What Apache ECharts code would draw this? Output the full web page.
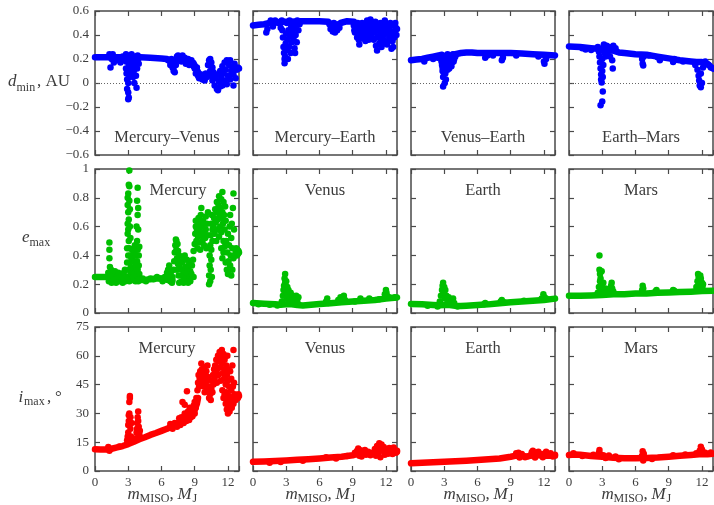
<!DOCTYPE html>
<html><head><meta charset="utf-8">
<script src="https://cdn.jsdelivr.net/npm/echarts@6/dist/echarts.min.js"></script>
<style>html,body{margin:0;padding:0;background:#fff}#c{width:714px;height:505px}</style>
</head><body><div id="c"></div>
<script>
// ---------- tick labels / titles ----------
const xTicks = [0, 3, 6, 9, 12];
const xMax = 13;
const dTicks = [-0.6, -0.4, -0.2, 0, 0.2, 0.4, 0.6];
const eTicks = [0, 0.2, 0.4, 0.6, 0.8, 1];
const iTicks = [0, 15, 30, 45, 60, 75];
const pairTitles = ['Mercury–Venus', 'Mercury–Earth', 'Venus–Earth', 'Earth–Mars'];
const planetTitles = ['Mercury', 'Venus', 'Earth', 'Mars'];

// ---------- d_min (AU) ----------
const dMV_band = [[0,0.215],[1,0.215],[2,0.215],[2.7,0.215],[4.1,0.215],[5,0.21],[6,0.205],[6.5,0.2],[6.8,0.18],[7.1,0.13],[7.4,0.2],[7.7,0.215],[8,0.195],[8.5,0.185],[8.9,0.165],[9.2,0.11],[9.5,0.06],[10,0.045]];
const dMV_pts = [[1.3,0.24],[1.4,0.13],[1.5,0.2],[1.6,0.24],[1.7,0.17],[2.1,0.19],[2.3,0.17],[2.5,0.22],
[2.8,0.24],[2.8,0.18],[2.8,0.12],[2.85,0.08],[2.9,0.03],[2.9,-0.05],[3.0,-0.08],[3.05,-0.12],[3.0,-0.135],[3.0,0.0],[3.0,0.2],[3.05,0.15],[3.1,0.1],[3.1,0.05],[3.15,0.22],[3.2,0.12],[3.25,0.18],[3.3,0.09],[3.3,0.24],[3.4,0.16],[3.45,0.05],[3.5,0.21],[3.5,0.1],[3.55,0.0],[3.6,0.14],[3.6,0.22],[3.7,0.06],[3.7,0.18],[3.75,-0.04],[3.8,0.12],[3.85,0.23],[3.9,0.2],[3.95,0.16],
[6.6,0.19],[6.8,0.15],[6.9,0.2],[7.0,0.13],[7.1,0.1],[7.2,0.09],[7.3,0.15],[7.4,0.22],[7.5,0.23],[7.6,0.21],[7.8,0.18],[7.9,0.23],[8.1,0.21],[8.2,0.16],[8.4,0.2],[8.5,0.15],[8.7,0.19],[8.8,0.17],[8.9,0.14],[9.0,0.12],[9.1,0.08],[9.2,0.13],[9.3,0.06],[9.4,0.04],[9.6,0.07],[9.7,0.03],[9.8,0.06],[9.9,0.02],[10.0,0.08],[10.1,0.05],[10.2,0.15],[10.3,0.19],[10.4,0.2],[10.4,0.1],[10.5,0.17],[10.5,0.06],[10.6,0.13],[10.6,0.02],[10.7,0.09],[10.8,-0.02],[10.9,0.04],[11.0,-0.05],[11.0,0.07],[11.1,-0.06],[11.2,0.01],[11.3,0.1],[11.3,-0.03],[11.4,0.05],[11.5,0.14],[11.5,-0.02],[11.6,0.08],[11.7,0.17],[11.7,0.02],[11.8,0.11],[11.9,0.19],[11.9,-0.01],[12.0,0.06],[12.1,0.15],[12.2,0.19],[12.2,0.03],[12.3,0.1],[12.4,0.13],[12.5,-0.02],[12.5,0.07],[12.6,0.16],[12.7,0.04],[12.8,0.11],[12.9,0.13],[13.0,0.12]];

const dME_band = [[0,0.48],[0.5,0.485],[1,0.49],[1.5,0.5],[2,0.505],[2.6,0.51],[3.3,0.51],[4.3,0.515],[5,0.515],[6,0.515],[6.8,0.51],[7.2,0.47],[7.5,0.45],[7.9,0.5],[8.5,0.515],[9.1,0.51]];
const dME_pts = [[1.2,0.42],[1.3,0.45],[1.6,0.52],[1.8,0.47],[2.0,0.52],[2.3,0.5],[2.5,0.46],
[2.6,0.52],[2.65,0.44],[2.7,0.38],[2.75,0.3],[2.8,0.25],[2.85,0.2],[2.85,0.165],[2.9,0.22],[2.95,0.33],[3.0,0.41],[3.0,0.27],[3.05,0.5],[3.1,0.36],[3.15,0.2],[3.2,0.44],[3.25,0.3],[3.3,0.52],[3.35,0.39],[3.4,0.25],[3.45,0.47],[3.5,0.34],[3.55,0.42],[3.6,0.5],[3.65,0.37],[3.7,0.45],[3.75,0.29],[3.8,0.25],[3.85,0.4],[3.9,0.48],[3.95,0.34],[4.0,0.52],[4.1,0.44],[4.2,0.49],
[6.9,0.49],[7.0,0.45],[7.2,0.43],[7.3,0.5],[7.4,0.42],[7.6,0.44],[7.7,0.49],[7.8,0.46],
[9.1,0.48],[9.2,0.42],[9.3,0.5],[9.4,0.38],[9.5,0.45],[9.6,0.32],[9.7,0.4],[9.8,0.48],[9.9,0.37],[10.0,0.43],[10.1,0.39],[10.2,0.46],[10.3,0.52],[10.4,0.41],[10.5,0.5],[10.6,0.53],[10.7,0.44],[10.8,0.48],[10.9,0.36],[11.0,0.42],[11.1,0.31],[11.2,0.27],[11.2,0.38],[11.3,0.45],[11.4,0.33],[11.5,0.5],[11.5,0.4],[11.6,0.3],[11.7,0.44],[11.8,0.36],[11.9,0.52],[12.0,0.41],[12.1,0.32],[12.2,0.47],[12.3,0.38],[12.4,0.5],[12.5,0.285],[12.5,0.43],[12.6,0.35],[12.7,0.49],[12.8,0.42],[12.9,0.46],[13.0,0.45],
[9.15,0.44],[9.25,0.47],[9.35,0.43],[9.45,0.5],[9.55,0.36],[9.65,0.46],[9.75,0.42],[9.85,0.5],[9.95,0.45],[10.05,0.48],[10.15,0.35],[10.25,0.42],[10.35,0.47],[10.45,0.36],[10.55,0.44],[10.65,0.39],[10.75,0.51],[10.85,0.42],[10.95,0.47],[11.05,0.51],[11.15,0.45],[11.25,0.48],[11.35,0.39],[11.45,0.44],[11.55,0.35],[11.65,0.49],[11.75,0.4],[11.85,0.46],[11.95,0.33],[12.05,0.49],[12.15,0.43],[12.25,0.35],[12.35,0.44],[12.45,0.39],[12.55,0.48],[12.65,0.3],[12.75,0.38],[12.85,0.5],[12.95,0.4]];

const dVE_band = [[0,0.19],[0.5,0.195],[1,0.2],[1.5,0.21],[2,0.22],[2.5,0.23],[2.8,0.235],[3,0.22],[3.5,0.23],[4,0.24],[4.5,0.25],[5,0.255],[5.5,0.255],[6,0.25],[7,0.25],[8,0.25],[9,0.25],[10,0.245],[11,0.24],[12,0.235],[13,0.23]];
const dVE_pts = [[1.2,0.18],[2.0,0.2],[2.4,0.21],[2.7,0.21],[2.8,0.15],[2.85,0.1],[2.9,0.05],[2.9,-0.03],[2.95,0.19],[3.0,0.13],[3.05,0.0],[3.1,0.08],[3.1,0.2],[3.15,0.03],[3.2,0.16],[3.3,0.11],[3.3,0.24],[3.4,0.18],[3.5,0.14],[3.6,0.21],[3.7,0.17],[3.8,0.24],[3.9,0.2],[4.0,0.22],
[2.75,0.18],[2.85,0.13],[2.95,0.09],[3.0,0.17],[3.15,0.12],[3.25,0.14],[3.35,0.2],[3.45,0.12],[3.55,0.17],[3.65,0.14],[3.75,0.2],[3.85,0.18],
[6.7,0.21],[6.9,0.23],[8.2,0.19],[8.3,0.21],[7.4,0.23],[9.5,0.23],[12.0,0.18],[12.05,0.16],[12.2,0.2],[11.5,0.22]];

const dEM_band = [[0,0.305],[1,0.3],[2,0.29],[2.6,0.285],[3,0.28],[3.5,0.28],[4,0.27],[4.5,0.255],[5,0.25],[6,0.24],[7,0.235],[8,0.22],[9,0.205],[10,0.19],[11,0.18],[11.5,0.175],[12,0.175],[12.5,0.16],[13,0.12]];
const dEM_pts = [[1.2,0.29],[1.5,0.28],[2.0,0.275],[2.6,0.3],[2.7,0.26],[2.75,0.22],[2.8,0.17],[2.85,0.12],[2.9,0.07],[2.9,0.03],[2.95,0.005],[3.0,0.1],[3.0,0.2],[3.05,0.05],[3.05,-0.07],[3.0,-0.155],[2.85,-0.185],[3.1,0.15],[3.15,0.32],[3.2,0.25],[3.25,0.29],[3.3,0.22],[3.4,0.31],[3.5,0.26],[3.6,0.3],[3.7,0.22],[3.8,0.27],[3.9,0.19],[3.95,0.12],[4.0,0.31],[4.1,0.28],[4.2,0.29],[6.6,0.2],[6.65,0.16],[6.7,0.145],[6.75,0.22],[7.2,0.23],[8.2,0.19],[8.0,0.215],[9.4,0.175],[9.5,0.2],[10.3,0.18],[11.4,0.15],[11.6,0.11],[11.7,0.06],[11.75,0.02],[11.8,-0.02],[11.9,-0.035],[12.0,0.0],[11.9,0.08],[12.1,0.13],[12.2,0.17],[12.3,0.18],[12.6,0.15],[12.8,0.13]];

// ---------- e_max ----------
const eMe_band = [[0,0.25],[0.5,0.25],[1,0.25],[1.2,0.245],[1.6,0.24],[2,0.24],[2.5,0.235],[2.8,0.23],[3.3,0.23],[4,0.23],[4.5,0.23],[5,0.235],[5.5,0.24],[6,0.24],[6.5,0.23],[7,0.225]];
const eMe_pts = [[1.2,0.28],[1.25,0.22],[1.3,0.49],[1.3,0.44],[1.3,0.38],[1.35,0.32],[1.4,0.26],[1.45,0.3],[1.5,0.21],[1.6,0.27],[1.7,0.23],[1.8,0.29],[1.9,0.21],[2.0,0.26],[2.1,0.28],[2.2,0.22],[2.3,0.27],[2.4,0.25],[2.5,0.21],[2.6,0.28],[2.7,0.3],[2.75,0.22],
[2.9,0.25],[2.9,0.35],[2.9,0.45],[2.95,0.55],[2.95,0.62],[2.95,0.75],[2.95,0.8],[3.0,0.83],[3.0,0.7],[3.0,0.58],[3.0,0.4],[3.0,0.3],[3.05,0.89],[3.05,0.65],[3.05,0.5],[3.1,0.99],[3.1,0.88],[3.1,0.78],[3.1,0.45],[3.1,0.22],[3.15,0.72],[3.15,0.6],[3.15,0.35],[3.2,0.52],[3.2,0.4],[3.2,0.27],[3.25,0.32],[3.3,0.24],[3.3,0.38],[3.35,0.44],
[3.45,0.25],[3.5,0.3],[3.5,0.42],[3.55,0.36],[3.6,0.28],[3.6,0.47],[3.65,0.22],[3.7,0.33],[3.7,0.4],[3.75,0.6],[3.75,0.26],[3.8,0.78],[3.8,0.5],[3.8,0.36],[3.85,0.87],[3.85,0.68],[3.85,0.44],[3.85,0.3],[3.9,0.73],[3.9,0.58],[3.9,0.22],[3.95,0.4],[3.95,0.33],[4.0,0.46],[4.0,0.27],[4.05,0.24],
[4.3,0.24],[4.6,0.22],[5.0,0.24],[5.3,0.235],[5.6,0.25],[5.9,0.24],[6.1,0.22],
[6.3,0.25],[6.5,0.28],[6.6,0.3],[6.7,0.33],[6.75,0.26],[6.8,0.22],[6.9,0.29],[7.0,0.25],[6.95,0.21],
[7.1,0.3],[7.15,0.36],[7.2,0.42],[7.25,0.47],[7.3,0.51],[7.35,0.5],[7.35,0.44],[7.4,0.38],[7.4,0.3],[7.45,0.48],[7.5,0.43],[7.5,0.34],[7.55,0.26],[7.6,0.4],[7.6,0.21],[7.65,0.32],[7.7,0.36],
[7.8,0.22],[7.8,0.3],[7.9,0.26],[7.9,0.35],[8.0,0.21],[8.0,0.29],[8.05,0.38],[8.1,0.25],[8.1,0.4],[8.2,0.22],[8.2,0.32],[8.3,0.28],[8.3,0.37],[8.4,0.21],[8.4,0.3],[8.5,0.25],[8.5,0.34],[8.6,0.22],[8.6,0.29],[8.7,0.27],[8.75,0.33],
[8.85,0.37],[8.9,0.43],[8.9,0.25],
[9.0,0.48],[9.05,0.55],[9.1,0.6],[9.1,0.64],[9.15,0.5],[9.2,0.58],[9.25,0.45],[9.3,0.62],[9.3,0.53],[9.35,0.66],[9.4,0.49],[9.45,0.57],[9.5,0.61],[9.5,0.44],[9.55,0.68],[9.6,0.73],[9.6,0.54],[9.65,0.6],[9.7,0.5],[9.75,0.64],[9.8,0.56],[9.85,0.47],[9.9,0.62],[9.95,0.52],[10.0,0.67],[10.0,0.58],[10.05,0.45],[10.1,0.62],[10.15,0.54],[10.2,0.7],
[10.3,0.2],[10.3,0.26],[10.35,0.33],[10.35,0.4],[10.4,0.47],[10.4,0.22],[10.45,0.54],[10.45,0.3],[10.5,0.62],[10.5,0.37],[10.5,0.44],[10.55,0.68],[10.55,0.25],[10.6,0.58],[10.6,0.5],
[10.7,0.6],[10.75,0.66],[10.8,0.55],[10.85,0.72],[10.9,0.63],[10.95,0.5],[11.0,0.7],[11.0,0.77],[11.05,0.58],[11.1,0.65],[11.15,0.75],[11.2,0.53],[11.2,0.81],[11.25,0.68],[11.3,0.6],[11.35,0.73],[11.4,0.79],[11.4,0.56],[11.45,0.66],[11.5,0.84],[11.5,0.7],[11.55,0.62],[11.6,0.77],[11.6,0.5],[11.65,0.68],[11.7,0.58],[11.75,0.74],[11.8,0.64],
[11.4,0.45],[11.5,0.38],[11.6,0.42],[11.7,0.46],[11.8,0.35],[11.85,0.5],[11.9,0.3],[11.95,0.42],[12.0,0.55],[12.0,0.27],[12.05,0.36],[12.1,0.47],[12.15,0.6],[12.2,0.33],[12.2,0.68],[12.25,0.4],[12.3,0.26],[12.3,0.52],[12.35,0.62],[12.4,0.45],[12.4,0.3],[12.45,0.73],[12.5,0.83],[12.5,0.38],[12.55,0.58],
[12.7,0.42],[12.75,0.45],[12.8,0.4],[12.85,0.44],[12.9,0.41],[12.95,0.43],[13.0,0.42]];

const eV_band = [[0,0.07],[1,0.065],[2,0.06],[2.5,0.058],[3,0.06],[3.5,0.06],[4,0.055],[4.5,0.052],[5,0.055],[6,0.062],[7,0.068],[8,0.075],[9,0.08],[10,0.085],[11,0.09],[12,0.1],[13,0.108]];
const eV_pts = [[0.5,0.06],[1.5,0.058],[2.2,0.052],[2.6,0.08],[2.7,0.12],[2.75,0.16],[2.8,0.19],[2.85,0.24],[2.9,0.27],[2.9,0.21],[2.95,0.17],[3.0,0.14],[3.0,0.22],[3.05,0.1],[3.1,0.18],[3.15,0.13],[3.2,0.16],[3.3,0.11],[3.35,0.08],[3.4,0.14],[3.5,0.09],[3.6,0.12],[3.7,0.07],[3.8,0.1],[3.9,0.12],[4.0,0.08],[4.1,0.11],[6.6,0.08],[6.7,0.1],[6.8,0.07],[7.7,0.09],[7.9,0.11],[8.0,0.1],[8.2,0.12],[8.3,0.09],[9.2,0.08],[9.7,0.1],[10.5,0.1],[11.4,0.095],[11.9,0.13],[12.0,0.16],[12.05,0.14],[12.1,0.12],[12.3,0.11],[12.8,0.11]];

const eE_band = [[0,0.063],[1,0.06],[2,0.055],[2.5,0.053],[3,0.055],[3.5,0.055],[4,0.05],[4.5,0.048],[5,0.05],[6,0.055],[7,0.06],[8,0.068],[9,0.075],[10,0.08],[11,0.085],[12,0.09],[13,0.1]];
const eE_pts = [[1.5,0.05],[2.4,0.045],[2.6,0.08],[2.7,0.12],[2.8,0.16],[2.85,0.19],[2.9,0.21],[2.95,0.14],[3.0,0.18],[3.05,0.1],[3.1,0.16],[3.2,0.12],[3.3,0.09],[3.4,0.11],[3.5,0.07],[3.7,0.08],[3.8,0.1],[3.9,0.07],[4.2,0.045],[6.6,0.06],[6.7,0.07],[8.1,0.08],[8.2,0.09],[8.4,0.075],[10.2,0.085],[11.8,0.1],[11.95,0.13],[12.05,0.11],[12.2,0.1]];

const eMa_band = [[0,0.12],[1,0.12],[2,0.122],[3,0.125],[4,0.13],[5,0.13],[6,0.135],[7,0.135],[8,0.14],[9,0.142],[10,0.145],[11,0.148],[12,0.152],[13,0.155]];
const eMa_pts = [[2.6,0.14],[2.7,0.18],[2.75,0.4],[2.75,0.3],[2.8,0.27],[2.8,0.22],[2.85,0.24],[2.9,0.2],[2.9,0.16],[2.95,0.29],[3.0,0.18],[3.05,0.14],[3.1,0.21],[3.2,0.15],[3.3,0.17],[3.5,0.14],[3.7,0.16],[3.8,0.19],[3.85,0.21],[3.9,0.17],[4.0,0.15],[6.6,0.16],[6.65,0.19],[6.7,0.17],[7.8,0.15],[7.9,0.16],[9.4,0.16],[9.5,0.155],[11.5,0.18],[11.6,0.22],[11.65,0.27],[11.7,0.25],[11.75,0.23],[11.8,0.2],[11.85,0.26],[11.9,0.24],[11.95,0.19],[12.0,0.21],[12.05,0.18],[12.1,0.2]];

// ---------- i_max (deg) ----------
const iMe_band = [[0,11.3],[0.5,11.2],[1,11.2],[1.5,11.6],[2,12.3],[2.5,13],[3,14],[3.5,15.2],[4,16.5],[4.5,17.6],[5,18.8],[5.5,19.8],[6,20.9],[6.5,22],[7,23.5],[7.5,25],[8,26.6],[8.5,28.3],[8.8,30],[9.0,32],[9.2,35],[9.3,38]];
const iMe_pts = [[1.2,12.5],[1.3,10.6],[2.2,12.8],
[2.9,16],[2.95,18],[3.0,20],[3.0,24],[3.05,26],[3.05,29],[3.1,30],[3.1,36],[3.15,38],[3.15,39],[3.2,22],[3.2,28],[3.25,18],[3.3,25],[3.3,16],
[3.7,17],[3.75,20],[3.8,22],[3.8,25],[3.85,28],[3.9,31],[3.9,26],[3.95,23],[4.0,19],[4.05,21],
[6.8,24.5],[7.0,22],[7.2,25],[7.4,23],[7.6,27.5],[7.7,24],[7.8,28],[7.9,36],[8.0,25],[8.1,34.5],[8.1,30],[8.2,29],[8.25,26],[8.3,41.5],[8.4,31],[8.5,26.5],[8.55,33],[8.6,30],[8.65,28],[8.7,32],[8.8,28.5],[8.9,34],[8.95,31],[9.0,30],[9.0,36],[9.1,33],[9.15,38],
[9.25,42],[9.3,46],[9.35,50],[9.4,44],[9.45,48],[9.5,52],[9.55,45],[9.6,56],[9.6,49],[9.65,53],[9.7,46],[9.75,51],[9.8,44],[9.85,54],[9.9,48],[9.95,50],[10.0,45],[10.05,52],[10.1,47],[10.15,55],[10.2,49],
[9.9,41],[10.1,42],[10.3,38],[10.35,44],[10.4,40],[10.45,37],[10.5,43],[10.55,47],[10.6,41],[10.65,50],[10.7,45],[10.75,53],
[10.8,48],[10.85,55],[10.9,51],[10.95,58],[11.0,46],[11.05,53],[11.1,60],[11.15,50],[11.2,57],[11.25,62],[11.3,54],[11.35,47],[11.4,59],[11.45,63],[11.5,56],[11.55,51],[11.6,61],[11.65,48],[11.7,58],[11.75,53],[11.8,45],[11.85,55],[11.9,50],[11.95,60],[12.0,47],[12.05,53],[12.1,44],[12.2,52],[12.3,48],[12.4,55],[12.5,63],[12.55,46],
[11.5,42],[11.6,38],[11.7,40],[11.8,35],[11.85,41],[11.9,32],[11.95,37],[12.0,30],[12.05,34],[12.1,39],[12.15,31],[12.2,36],[12.3,42],[12.35,33],[12.4,38],[12.45,44],[12.5,35],[12.6,40],
[12.7,37],[12.8,38],[12.85,39.5],[12.9,38],[12.95,40],[13.0,39]];

const iV_band = [[0,4.8],[1,5],[2,5.2],[3,5.5],[4,5.8],[5,6.1],[6,6.5],[7,7],[8,7.4],[9,8.2],[9.5,9],[10,9.5],[10.5,9],[11,10],[11.5,11],[12,10],[12.5,10],[13,10]];
const iV_pts = [[1.5,4.3],[2.5,4.7],[4.5,5.3],[6.6,7.2],[7.5,6.5],[8.5,7.8],[9.2,9.5],[9.4,10.5],[9.5,11.7],[9.6,8],[9.7,10.8],[9.8,7.5],[9.9,9.8],[10.1,11],[10.2,8.5],[10.4,10],[10.6,8.2],[10.8,9],[11.0,11.5],[11.1,8],[11.2,13],[11.3,9.5],[11.4,14.5],[11.45,12],[11.5,7.2],[11.6,13.8],[11.7,10.5],[11.8,12.5],[11.9,8.5],[12.0,11.5],[12.2,9],[12.3,12],[12.5,10.8],[12.6,8.8],[12.7,12.2],[12.8,11],[12.9,9.5],[13.0,10.5]];

const iE_band = [[0,4],[1,4.3],[2,4.5],[3,4.8],[4,5.1],[5,5.4],[6,5.7],[7,6.1],[8,6.5],[9,7.4],[9.5,8],[10,7.8],[10.5,7.5],[11,8.5],[11.5,8.2],[12,8],[12.5,8],[13,8]];
const iE_pts = [[9.5,9.3],[9.6,8.2],[9.7,9.5],[9.8,7],[10.0,8.8],[10.3,7.2],[10.8,8],[10.9,9.8],[11.0,10.5],[11.1,9],[11.2,7],[11.3,9.5],[11.5,10],[11.7,8.8],[11.9,7.2],[12.0,9],[12.2,10],[12.4,8.5],[12.6,9.2],[12.8,7.5],[13.0,8.5]];

const iMa_band = [[0,8.3],[0.5,8.6],[1,8.5],[2,7.8],[3,7.4],[4,6.9],[5,6.6],[6,6.6],[7,6.8],[8,7],[9,7.4],[10,7.9],[11,8.3],[12,8.8],[12.5,8.7],[13,9]];
const iMa_pts = [[0.4,9.3],[1.2,7.8],[2.2,8.5],[2.7,9.5],[2.75,10.9],[2.8,8.8],[3.1,8.2],[3.3,6.8],[3.6,8.1],[4.2,7.5],[4.5,6.1],[6.6,8],[6.65,10.3],[6.7,5.5],[6.75,9],[7.5,6.3],[9.4,8.2],[10.5,8.6],[11.5,9.2],[11.8,10.5],[11.9,12.6],[12.0,11.2],[12.1,9.8],[12.3,9.5],[12.8,9.6]];

// ---------- layout ----------
const F = "'Liberation Serif','DejaVu Serif',serif";
const TC = '#3c3c3c';
const FRAME = '#4a4a4a';
const colLeft = [95, 253, 411, 569], rowTop = [11, 169, 327], W = 144, H = 144;

const fmtNum = v => { const s = String(Math.round(v * 100) / 100); return s.replace('-', '\u2212'); };
const rows = [
  { ticks: dTicks, color: '#0000ff', bands: [dMV_band, dME_band, dVE_band, dEM_band], pts: [dMV_pts, dME_pts, dVE_pts, dEM_pts], zero: true },
  { ticks: eTicks, color: '#00bf00', bands: [eMe_band, eV_band, eE_band, eMa_band], pts: [eMe_pts, eV_pts, eE_pts, eMa_pts] },
  { ticks: iTicks, color: '#ff0000', bands: [iMe_band, iV_band, iE_band, iMa_band], pts: [iMe_pts, iV_pts, iE_pts, iMa_pts] }
];

const grid = [], xAxis = [], yAxis = [], series = [], graphic = [];
const tickStyle = { show: true, inside: true, length: 5, lineStyle: { color: FRAME, width: 1.2 } };
const noLine = { show: false, onZero: false };
const labelBase = { fontFamily: F, fontSize: 13, color: TC };

rows.forEach((row, r) => {
  const t = row.ticks;
  const yMin = t[0], yMax = t[t.length - 1], yInt = +(t[1] - t[0]).toFixed(6);
  for (let c = 0; c < 4; c++) {
    const gi = grid.length;
    grid.push({ left: colLeft[c], top: rowTop[r], width: W, height: H, show: true, borderColor: FRAME, borderWidth: 1.5, backgroundColor: 'transparent', containLabel: false, outerBoundsMode: 'none' });
    const xi = xAxis.length, yi = yAxis.length;
    xAxis.push({ gridIndex: gi, type: 'value', min: xTicks[0], max: xMax, interval: xTicks[1] - xTicks[0], position: 'bottom',
      axisLine: noLine, axisTick: tickStyle, splitLine: { show: false },
      axisLabel: Object.assign({ show: r === 2, margin: 5, formatter: v => xTicks.includes(v) ? String(v) : '' }, labelBase) });
    xAxis.push({ gridIndex: gi, type: 'value', min: xTicks[0], max: xMax, interval: xTicks[1] - xTicks[0], position: 'top',
      axisLine: noLine, axisTick: tickStyle, splitLine: { show: false }, axisLabel: { show: false } });
    yAxis.push({ gridIndex: gi, type: 'value', min: yMin, max: yMax, interval: yInt, position: 'left',
      axisLine: noLine, axisTick: tickStyle, splitLine: { show: false },
      axisLabel: Object.assign({ show: c === 0, margin: 6, formatter: fmtNum }, labelBase) });
    yAxis.push({ gridIndex: gi, type: 'value', min: yMin, max: yMax, interval: yInt, position: 'right',
      axisLine: noLine, axisTick: tickStyle, splitLine: { show: false }, axisLabel: { show: false } });

    const band = {
      type: 'line', xAxisIndex: xi, yAxisIndex: yi, data: row.bands[c], symbol: 'none', smooth: false,
      lineStyle: { color: row.color, width: 6.5, cap: 'round', join: 'round' }, itemStyle: { color: row.color }, z: 3, silent: true
    };
    if (row.zero) {
      band.markLine = { silent: true, symbol: 'none', z: 1, label: { show: false },
        lineStyle: { type: [1, 2], color: '#666', width: 1 }, data: [{ yAxis: 0 }] };
    }
    series.push(band);
    series.push({ type: 'scatter', xAxisIndex: xi, yAxisIndex: yi, data: row.pts[c], symbol: 'circle', symbolSize: 6.5,
      itemStyle: { color: row.color, opacity: 1 }, z: 4, silent: true });

    // panel title
    let title, ty, tx = colLeft[c] + W / 2;
    if (r === 0) { title = pairTitles[c]; ty = 137.5; }
    else { title = planetTitles[c]; ty = r === 1 ? 190.5 : 348.5; if (r === 1 && c === 0) tx = colLeft[c] + 83; }
    graphic.push({ type: 'text', x: tx, y: ty, silent: true, z: 10,
      style: { text: title, fill: TC, font: '16.5px ' + F, align: 'center', verticalAlign: 'middle' } });

    // x-axis title
    if (r === 2) {
      const L = colLeft[c];
      graphic.push({ type: 'text', x: L + 32.5, y: 494.5, silent: true, style: { text: 'm', fill: TC, font: 'italic 17px ' + F, verticalAlign: 'middle' } });
      graphic.push({ type: 'text', x: L + 44.5, y: 499, silent: true, style: { text: 'MISO', fill: TC, font: '12px ' + F, verticalAlign: 'middle' } });
      graphic.push({ type: 'text', x: L + 74.5, y: 494.5, silent: true, style: { text: ',', fill: TC, font: '17px ' + F, verticalAlign: 'middle' } });
      graphic.push({ type: 'text', x: L + 82.5, y: 494.5, silent: true, style: { text: 'M', fill: TC, font: 'italic 17px ' + F, verticalAlign: 'middle' } });
      graphic.push({ type: 'text', x: L + 97.5, y: 499, silent: true, style: { text: 'J', fill: TC, font: '12px ' + F, verticalAlign: 'middle' } });
    }
  }
});

// y-axis titles
const yt = [
  ['d', 8, 82, 'italic 17px'], ['min', 16.5, 87.5, '12px'], [', AU', 37, 82, '17px'],
  ['e', 22, 238, 'italic 17px'], ['max', 29.5, 242.7, '12px'],
  ['i', 18.5, 397.5, 'italic 17px'], ['max', 24, 401.5, '12px'], [',', 47, 397.5, '17px'], ['\u00B0', 55, 397.5, '17px']
];
yt.forEach(([s, x, y, f]) => graphic.push({ type: 'text', x, y, silent: true, style: { text: s, fill: TC, font: f + ' ' + F, verticalAlign: 'middle' } }));

const chart = echarts.init(document.getElementById('c'), null, { renderer: 'canvas' });
chart.setOption({ animation: false, backgroundColor: '#fff', grid, xAxis, yAxis, series, graphic });
</script></body></html>
